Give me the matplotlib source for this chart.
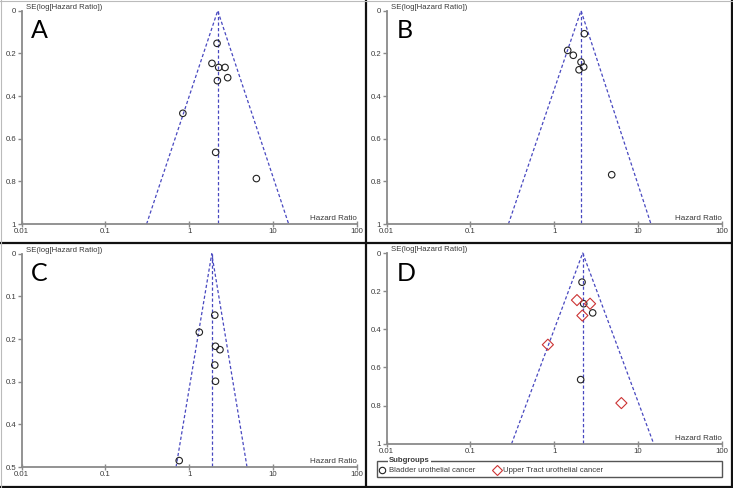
import matplotlib
matplotlib.use("Agg")
import matplotlib.pyplot as plt
from matplotlib.lines import Line2D
from matplotlib.patches import Rectangle

W, H = 733, 488
DPI = 100

# ---------------- data ----------------
# Panel A
a_hr = [2.15, 1.87, 2.25, 2.68, 2.88, 2.17, 0.84, 2.07, 6.34]
a_se = [0.153, 0.247, 0.266, 0.266, 0.314, 0.328, 0.481, 0.664, 0.787]
a_pooled = 2.19
a_funnel = [0.31, 15.4]

# Panel B
b_hr = [2.29, 1.45, 1.69, 2.09, 2.25, 1.98, 4.86]
b_se = [0.108, 0.186, 0.209, 0.241, 0.264, 0.277, 0.769]
b_pooled = 2.09
b_funnel = [0.284, 14.3]

# Panel C
c_hr = [2.02, 1.32, 2.06, 2.33, 2.02, 2.06, 0.76]
c_se = [0.144, 0.184, 0.217, 0.225, 0.261, 0.299, 0.485]
c_pooled = 1.86
c_funnel = [0.697, 4.90]

# Panel D (subgroups)
d_bladder_hr = [2.15, 2.25, 2.88, 2.07]
d_bladder_se = [0.153, 0.266, 0.314, 0.664]
d_utuc_hr = [1.87, 2.68, 2.17, 0.84, 6.34]
d_utuc_se = [0.247, 0.266, 0.328, 0.481, 0.787]
d_pooled = 2.19
d_funnel = [0.31, 15.4]

x_ticks = [0.01, 0.1, 1, 10, 100]
x_ticklabels = ["0.01", "0.1", "1", "10", "100"]
y_ticks_full = [0, 0.2, 0.4, 0.6, 0.8, 1]
y_ticklabels_full = ["0", "0.2", "0.4", "0.6", "0.8", "1"]
y_ticks_half = [0, 0.1, 0.2, 0.3, 0.4, 0.5]
y_ticklabels_half = ["0", "0.1", "0.2", "0.3", "0.4", "0.5"]
subgroup_names = ["Bladder urothelial cancer", "Upper Tract urothelial cancer"]
panel_letters = ["A", "B", "C", "D"]

# ---------------- styling ----------------
plt.rcParams['font.family'] = ['Liberation Sans', 'DejaVu Sans']
FUNNEL_COLOR = '#4848c0'
AXIS_COLOR = '#8a8a8a'
TEXT_COLOR = '#3a3a3a'
RED = '#cc3333'
SMALL = 5.6

fig = plt.figure(figsize=(W / DPI, H / DPI), dpi=DPI)
fig.patch.set_facecolor('white')


def px_rect(left, top, right, bottom):
    return [left / W, 1 - bottom / H, (right - left) / W, (bottom - top) / H]


def setup_axes(ax, ymax, yticks, yticklabels, pooled, funnel):
    ax.set_xscale('log')
    ax.set_xlim(0.01, 100)
    ax.set_ylim(ymax, 0)
    ax.set_xticks(x_ticks)
    ax.set_xticklabels(x_ticklabels)
    ax.minorticks_off()
    ax.set_yticks(yticks)
    ax.set_yticklabels(yticklabels)
    for s in ['top', 'right']:
        ax.spines[s].set_visible(False)
    for s in ['left', 'bottom']:
        ax.spines[s].set_color(AXIS_COLOR)
        ax.spines[s].set_linewidth(1.3)
    ax.tick_params(axis='both', colors=AXIS_COLOR, labelcolor=TEXT_COLOR,
                   labelsize=SMALL, length=3, width=1.0, pad=1)
    ax.tick_params(axis='x', direction='inout', length=4)
    ax.patch.set_alpha(0)
    # funnel
    ax.plot([funnel[0], pooled, funnel[1]], [ymax, 0, ymax],
            color=FUNNEL_COLOR, lw=0.9, ls=(0, (2.6, 1.8)), zorder=2, clip_on=False)
    ax.plot([pooled, pooled], [0, ymax], color=FUNNEL_COLOR, lw=0.9,
            ls=(0, (2.6, 1.8)), zorder=2, clip_on=False)
    ax.text(0.012, 1.0, "SE(log[Hazard Ratio])", transform=ax.transAxes,
            ha='left', va='bottom', fontsize=SMALL, color=TEXT_COLOR)
    ax.text(1.0, 0.008, "Hazard Ratio", transform=ax.transAxes,
            ha='right', va='bottom', fontsize=SMALL + 0.2, color=TEXT_COLOR)


def circles(ax, x, y):
    ax.scatter(x, y, s=22, facecolors='none', edgecolors='#222222',
               linewidths=0.8, zorder=3, clip_on=False)


axA = fig.add_axes(px_rect(21.7, 10.7, 356.7, 224))
setup_axes(axA, 1, y_ticks_full, y_ticklabels_full, a_pooled, a_funnel)
circles(axA, a_hr, a_se)

axB = fig.add_axes(px_rect(386.7, 10.7, 721.7, 224))
setup_axes(axB, 1, y_ticks_full, y_ticklabels_full, b_pooled, b_funnel)
circles(axB, b_hr, b_se)

axC = fig.add_axes(px_rect(21.7, 253.7, 356.7, 467))
setup_axes(axC, 0.5, y_ticks_half, y_ticklabels_half, c_pooled, c_funnel)
circles(axC, c_hr, c_se)

axD = fig.add_axes(px_rect(386.7, 253, 721.7, 443.7))
setup_axes(axD, 1, y_ticks_full, y_ticklabels_full, d_pooled, d_funnel)
circles(axD, d_bladder_hr, d_bladder_se)
axD.scatter(d_utuc_hr, d_utuc_se, s=32, marker='D', facecolors='none',
            edgecolors=RED, linewidths=0.8, zorder=3, clip_on=False)

# panel letters
letter_pos = [(31, 38), (397, 38), (31, 281), (397, 281)]
for letter, (lx, ly) in zip(panel_letters, letter_pos):
    fig.text(lx / W, 1 - ly / H, letter, fontsize=18, family='Lato',
             color='black', ha='left', va='baseline')

# legend for D
lg_left, lg_top, lg_right, lg_bottom = 376.7, 461, 721.7, 477
fig.add_artist(Rectangle((lg_left / W, 1 - lg_bottom / H),
                         (lg_right - lg_left) / W, (lg_bottom - lg_top) / H,
                         transform=fig.transFigure, fill=False,
                         edgecolor='#555555', lw=1.0))
fig.text(389 / W, 1 - lg_top / H, "Subgroups", fontsize=SMALL, weight='bold',
         color=TEXT_COLOR, ha='left', va='center',
         bbox=dict(facecolor='white', edgecolor='none', pad=1.0))
mid_y = 1 - 470 / H
fig.add_artist(Line2D([382 / W], [mid_y], marker='o', markersize=4.6,
                      markerfacecolor='none', markeredgecolor='#222222',
                      markeredgewidth=0.8, transform=fig.transFigure))
fig.text(389 / W, mid_y, subgroup_names[0], fontsize=SMALL,
         color=TEXT_COLOR, ha='left', va='center')
fig.add_artist(Line2D([497 / W], [mid_y], marker='D', markersize=5.2,
                      markerfacecolor='none', markeredgecolor=RED,
                      markeredgewidth=0.8, transform=fig.transFigure))
fig.text(503 / W, mid_y, subgroup_names[1], fontsize=SMALL,
         color=TEXT_COLOR, ha='left', va='center')

# separators & borders
def hline(y, x0, x1, color, lw):
    fig.add_artist(Line2D([x0 / W, x1 / W], [1 - y / H, 1 - y / H],
                          color=color, lw=lw, transform=fig.transFigure))


def vline(x, y0, y1, color, lw):
    fig.add_artist(Line2D([x / W, x / W], [1 - y0 / H, 1 - y1 / H],
                          color=color, lw=lw, transform=fig.transFigure))


vline(366, 0, H, '#111111', 1.6)
hline(243, 0, W, '#111111', 1.6)
vline(731.5, 0, H, '#111111', 1.6)
hline(486.5, 0, W, '#111111', 1.6)
vline(0.5, 0, H, '#bbbbbb', 0.8)
hline(0.5, 0, W, '#bbbbbb', 0.8)

fig.savefig("out.png", dpi=DPI, facecolor='white')
